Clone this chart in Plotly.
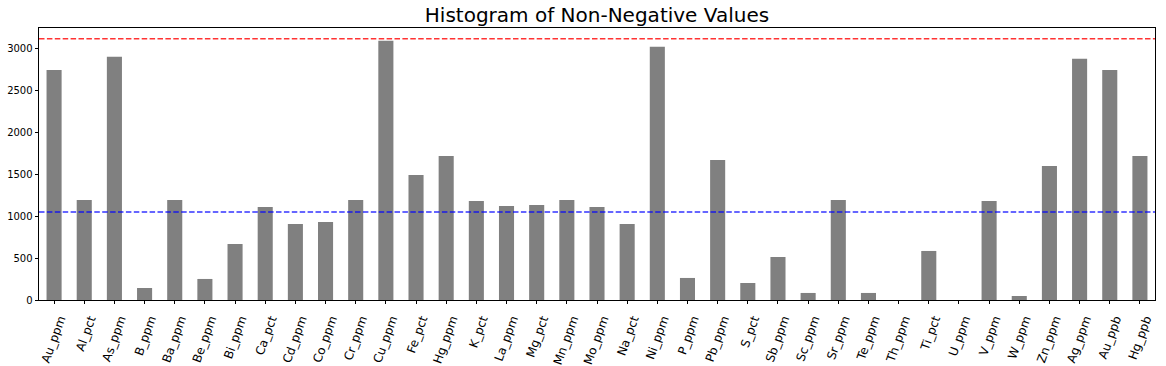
import plotly.graph_objects as go

categories = ["Au_ppm", "Al_pct", "As_ppm", "B_ppm", "Ba_ppm", "Be_ppm", "Bi_ppm",
              "Ca_pct", "Cd_ppm", "Co_ppm", "Cr_ppm", "Cu_ppm", "Fe_pct", "Hg_ppm",
              "K_pct", "La_ppm", "Mg_pct", "Mn_ppm", "Mo_ppm", "Na_pct", "Ni_ppm",
              "P_ppm", "Pb_ppm", "S_pct", "Sb_ppm", "Sc_ppm", "Sr_ppm", "Te_ppm",
              "Th_ppm", "Ti_pct", "U_ppm", "V_ppm", "W_ppm", "Zn_ppm", "Ag_ppm",
              "Au_ppb", "Hg_ppb"]
counts = [2745, 1194, 2901, 143, 1194, 251, 668,
          1110, 907, 931, 1194, 3092, 1492, 1719,
          1182, 1122, 1134, 1194, 1110, 907, 3020,
          263, 1671, 203, 513, 84, 1194, 84,
          0, 585, 0, 1182, 48, 1600, 2877,
          2745, 1719]
upper_line = 3116
mean_line = 1050
y_ticks = [0, 500, 1000, 1500, 2000, 2500, 3000]

FONT = "DejaVu Sans"

fig = go.Figure()
fig.add_trace(go.Bar(x=categories, y=counts, marker=dict(color="#808080", line=dict(width=0))))

fig.add_shape(type="line", xref="paper", yref="y", x0=0, x1=1, y0=upper_line, y1=upper_line,
              line=dict(color="rgba(255,0,0,0.8)", width=1.5, dash="5.5px,2.4px"))
fig.add_shape(type="line", xref="paper", yref="y", x0=0, x1=1, y0=mean_line, y1=mean_line,
              line=dict(color="rgba(0,0,255,0.8)", width=1.5, dash="5.5px,2.4px"))

fig.update_layout(
    width=1166, height=366,
    margin=dict(l=39, r=11, t=28, b=66, autoexpand=False),
    paper_bgcolor="white", plot_bgcolor="white",
    bargap=0.5,
    showlegend=False,
    font=dict(family=FONT, color="black"),
    title=dict(text="Histogram of Non-Negative Values", x=0.512, xanchor="center",
               y=0.958, yref="container", yanchor="middle",
               font=dict(family=FONT, size=20, color="black")),
)
fig.update_xaxes(
    type="category", range=[-0.5, len(categories) - 0.5], automargin=False,
    tickangle=-70, tickfont=dict(family=FONT, size=12, color="black"),
    ticklabelshift=6, ticklabelstandoff=3,
    ticks="outside", ticklen=3.5, tickwidth=0.8, tickcolor="black",
    showline=True, linecolor="black", linewidth=0.8, mirror=True,
    showgrid=False, zeroline=False,
)
fig.update_yaxes(
    range=[0, 3245], tickvals=y_ticks, automargin=False,
    tickfont=dict(family=FONT, size=10, color="black"),
    ticks="outside", ticklen=3.5, tickwidth=0.8, tickcolor="black",
    showline=True, linecolor="black", linewidth=0.8, mirror=True,
    showgrid=False, zeroline=False,
)

fig.write_html("out.html", config={"displayModeBar": False},
               post_script="document.body.style.margin='0';")
